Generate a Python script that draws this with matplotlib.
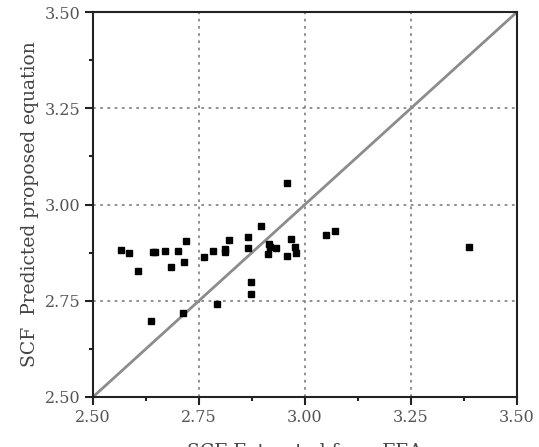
import matplotlib
matplotlib.use("Agg")
import matplotlib.pyplot as plt
from matplotlib.ticker import MultipleLocator

# SCF values: x = extracted from FEA, y = predicted by proposed equation
scf_fea = [2.565, 2.584, 2.607, 2.638, 2.641, 2.646, 2.671, 2.684, 2.700, 2.715,
           2.719, 2.713, 2.762, 2.783, 2.792, 2.811, 2.811, 2.821, 2.865, 2.865,
           2.873, 2.872, 2.897, 2.915, 2.917, 2.912, 2.932, 2.958, 2.957, 2.968,
           2.976, 2.980, 3.049, 3.072, 3.386]
scf_pred = [2.882, 2.875, 2.826, 2.698, 2.877, 2.877, 2.880, 2.838, 2.880, 2.851,
            2.904, 2.718, 2.864, 2.880, 2.742, 2.884, 2.876, 2.909, 2.915, 2.887,
            2.798, 2.768, 2.945, 2.898, 2.889, 2.871, 2.887, 3.055, 2.866, 2.910,
            2.889, 2.873, 2.920, 2.930, 2.890]
lims = [2.50, 3.50]
ticks = [2.50, 2.75, 3.00, 3.25, 3.50]
tick_labels = ["2.50", "2.75", "3.00", "3.25", "3.50"]

plt.rcParams['font.family'] = ['DejaVu Serif']

fig = plt.figure(figsize=(5.39, 4.47), dpi=100)
ax = fig.add_axes([0.1725, 0.112, 0.7865, 0.861])

ax.plot(lims, lims, color='#8c8c8c', lw=2, zorder=2)
ax.plot(scf_fea, scf_pred, 's', color='black', ms=5, zorder=3)

ax.set_xlim(lims)
ax.set_ylim(lims)
ax.set_xticks(ticks)
ax.set_xticklabels(tick_labels)
ax.set_yticks(ticks)
ax.set_yticklabels(tick_labels)
ax.xaxis.set_minor_locator(MultipleLocator(0.125))
ax.yaxis.set_minor_locator(MultipleLocator(0.125))

ax.grid(True, which='major', ls=(0, (1.5, 2.5)), color='#888888', lw=1.3)
for s in ax.spines.values():
    s.set_linewidth(1.5)
    s.set_color('#222222')
ax.tick_params(which='major', direction='out', length=6, width=1.5,
               labelsize=11.5, labelcolor='#555555', color='#222222', pad=3)
ax.tick_params(which='minor', direction='out', length=3, width=1.5, color='#222222')

ax.set_ylabel('SCF  Predicted proposed equation', fontsize=13.5, color='#444444', labelpad=4)
ax.set_xlabel('SCF Extracted from FEA', fontsize=13.5, color='#444444', labelpad=12)

fig.savefig('out.png', dpi=100)
